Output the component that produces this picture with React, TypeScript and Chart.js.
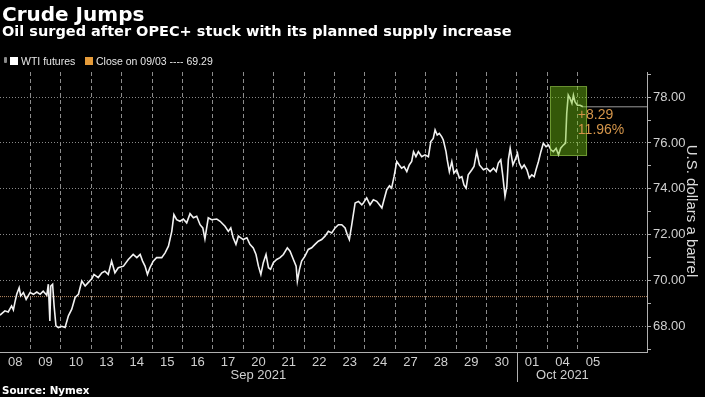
import React, { useEffect, useRef } from 'react';
import { Chart, registerables } from 'chart.js';

Chart.register(...registerables);

// ---- data ----
const dayLabels = ['08', '09', '10', '13', '14', '15', '16', '17', '20', '21', '22', '23', '24', '27', '28', '29', '30', '01', '04', '05'];
const monthLabels = ['Sep 2021', 'Oct 2021'];
const monthStarts = [0, 17];
const monthEnds = [17, 20];
const priceTicks = [67, 68, 69, 70, 71, 72, 73, 74, 75, 76, 77, 78, 79];
const labeledPrices = [68, 70, 72, 74, 76, 78];

// session time in trading days since Sep 08 open
const sessionTimes = [0.00, 0.16, 0.27, 0.38, 0.44, 0.49, 0.55, 0.63, 0.68, 0.77, 0.86, 0.99, 1.10, 1.21, 1.32, 1.42, 1.54, 1.59, 1.64, 1.67, 1.73, 1.78, 1.84, 1.92, 2.03, 2.14, 2.25, 2.36, 2.47, 2.58, 2.69, 2.80, 2.90, 3.02, 3.09, 3.23, 3.35, 3.45, 3.56, 3.67, 3.78, 3.89, 4.06, 4.22, 4.38, 4.50, 4.61, 4.69, 4.77, 4.85, 4.93, 5.04, 5.15, 5.32, 5.43, 5.54, 5.65, 5.72, 5.81, 5.92, 6.03, 6.14, 6.25, 6.36, 6.47, 6.58, 6.67, 6.74, 6.85, 6.96, 7.13, 7.24, 7.40, 7.51, 7.59, 7.67, 7.76, 7.84, 8.00, 8.12, 8.22, 8.33, 8.42, 8.50, 8.58, 8.66, 8.75, 8.83, 8.90, 8.99, 9.10, 9.21, 9.32, 9.45, 9.54, 9.65, 9.74, 9.78, 9.85, 9.92, 10.03, 10.14, 10.25, 10.36, 10.47, 10.58, 10.69, 10.80, 10.91, 11.02, 11.13, 11.24, 11.35, 11.42, 11.49, 11.57, 11.68, 11.79, 11.90, 11.95, 12.06, 12.17, 12.28, 12.39, 12.48, 12.56, 12.63, 12.72, 12.81, 12.88, 12.96, 13.05, 13.13, 13.21, 13.29, 13.38, 13.46, 13.54, 13.60, 13.68, 13.76, 13.87, 13.98, 14.09, 14.17, 14.25, 14.31, 14.38, 14.45, 14.53, 14.58, 14.67, 14.71, 14.78, 14.86, 14.93, 15.02, 15.11, 15.19, 15.26, 15.33, 15.40, 15.52, 15.59, 15.68, 15.77, 15.90, 16.01, 16.12, 16.23, 16.32, 16.39, 16.47, 16.54, 16.61, 16.67, 16.72, 16.78, 16.87, 16.94, 17.02, 17.08, 17.16, 17.24, 17.33, 17.41, 17.49, 17.57, 17.63, 17.71, 17.79, 17.87, 17.96, 18.04, 18.12, 18.20, 18.29, 18.37, 18.44, 18.53, 18.60, 18.64, 18.69, 18.75, 18.81, 18.86, 18.91, 18.99, 19.08, 19.17];

const wtiPrices = [68.48, 68.67, 68.62, 68.88, 68.71, 69.04, 69.39, 69.68, 69.32, 69.47, 69.17, 69.47, 69.39, 69.49, 69.39, 69.53, 69.35, 69.83, 68.23, 69.75, 69.83, 68.88, 68.01, 67.94, 67.99, 67.94, 68.45, 68.74, 69.25, 69.39, 69.97, 69.75, 69.90, 70.07, 70.26, 70.12, 70.33, 70.40, 70.26, 70.84, 70.33, 70.55, 70.62, 70.91, 71.13, 70.99, 71.13, 70.84, 70.62, 70.26, 70.55, 70.84, 70.99, 70.99, 71.20, 71.49, 72.14, 72.87, 72.65, 72.58, 72.68, 72.51, 72.91, 72.73, 72.80, 72.43, 72.29, 71.81, 72.73, 72.65, 72.68, 72.58, 72.36, 72.14, 72.29, 71.86, 71.57, 71.93, 71.78, 71.86, 71.57, 71.42, 71.13, 70.62, 70.26, 70.77, 71.13, 70.55, 70.48, 70.77, 70.91, 70.99, 71.13, 71.42, 71.27, 70.91, 70.62, 69.97, 70.48, 70.84, 71.06, 71.35, 71.42, 71.57, 71.71, 71.78, 71.93, 72.14, 72.07, 72.29, 72.43, 72.43, 72.29, 72.00, 71.78, 72.43, 73.38, 73.45, 73.30, 73.38, 73.60, 73.30, 73.52, 73.45, 73.30, 73.16, 73.52, 73.96, 74.13, 74.03, 74.53, 75.19, 75.04, 74.90, 74.97, 74.75, 75.04, 75.19, 75.62, 75.40, 75.62, 75.40, 75.48, 75.40, 76.06, 76.20, 76.57, 76.35, 76.42, 76.27, 76.13, 75.62, 75.26, 74.75, 75.19, 74.68, 74.83, 74.47, 74.53, 74.17, 74.03, 74.61, 74.83, 74.97, 75.62, 75.04, 74.83, 74.90, 74.75, 74.90, 74.75, 75.12, 75.26, 74.53, 73.67, 74.10, 75.26, 75.77, 75.04, 75.26, 75.55, 75.12, 74.90, 75.04, 74.83, 74.47, 74.61, 74.53, 74.83, 75.19, 75.62, 75.99, 75.84, 75.91, 75.70, 75.62, 75.77, 75.48, 75.77, 75.91, 75.99, 77.29, 78.09, 77.94, 77.73, 78.09, 77.80, 77.65, 77.65, 77.58];

const referenceClose = 69.29;
const changeValue = 8.29;
const changePct = 11.96;
const highlightStart = 18.09;
const highlightEnd = 19.31;
const highlightHigh = 78.48;
const highlightLow = 75.43;
const xMin = 0;
const xMax = 21.28;
const yMin = 66.87;
const yMax = 79.1;

const lastTime = sessionTimes[sessionTimes.length - 1];
const lastPrice = wtiPrices[wtiPrices.length - 1];

const overlayPlugin = {
  id: 'overlay',
  afterDatasetsDraw(chart: any) {
    const { ctx, scales } = chart;
    const x = scales.x;
    const y = scales.y;
    const x1 = x.getPixelForValue(highlightStart);
    const x2 = x.getPixelForValue(highlightEnd);
    const y1 = y.getPixelForValue(highlightHigh);
    const y2 = y.getPixelForValue(highlightLow);
    ctx.save();
    ctx.fillStyle = 'rgba(115,195,20,0.45)';
    ctx.fillRect(x1, y1, x2 - x1, y2 - y1);
    ctx.setLineDash([1, 1]);
    ctx.lineWidth = 1;
    ctx.strokeStyle = '#a6d85a';
    ctx.strokeRect(Math.round(x1) + 0.5, Math.round(y1) + 0.5, Math.round(x2 - x1) - 1, Math.round(y2 - y1) - 1);
    ctx.setLineDash([]);
    const tx = x.getPixelForValue(lastTime) - 5;
    const ty = y.getPixelForValue(lastPrice);
    ctx.font = '14px "Liberation Sans", Arial, sans-serif';
    ctx.fillStyle = '#d4954a';
    ctx.textBaseline = 'middle';
    ctx.textAlign = 'left';
    ctx.fillText('+' + changeValue.toFixed(2), tx, ty + 8);
    ctx.fillText(changePct.toFixed(2) + '%', tx, ty + 23);
    ctx.restore();
  },
  afterDraw(chart: any) {
    const { ctx, scales, chartArea } = chart;
    const x = scales.x;
    ctx.save();
    ctx.font = '13px "Liberation Sans", Arial, sans-serif';
    ctx.fillStyle = '#d0d0d0';
    ctx.textAlign = 'center';
    ctx.textBaseline = 'middle';
    monthLabels.forEach((m, i) => {
      const cx = (x.getPixelForValue(monthStarts[i]) + x.getPixelForValue(monthEnds[i])) / 2;
      ctx.fillText(m, cx, chartArea.bottom + 23);
    });
    ctx.strokeStyle = '#b0b0b0';
    ctx.lineWidth = 1;
    monthStarts.slice(1).forEach((v) => {
      const px = Math.round(x.getPixelForValue(v)) + 0.5;
      ctx.beginPath();
      ctx.moveTo(px, chartArea.bottom);
      ctx.lineTo(px, chartArea.bottom + 30);
      ctx.stroke();
    });
    ctx.restore();
  },
};

export default function App() {
  const ref = useRef<HTMLCanvasElement>(null);

  useEffect(() => {
    const n = Math.min(sessionTimes.length, wtiPrices.length);
    const series = [];
    for (let i = 0; i < n; i++) series.push({ x: sessionTimes[i], y: wtiPrices[i] });
    const tickFont = { family: '"Liberation Sans", Arial, sans-serif', size: 13 };
    const chart = new Chart(ref.current as HTMLCanvasElement, {
      type: 'line',
      data: {
        datasets: [
          {
            data: series,
            borderColor: '#f2f2f2',
            borderWidth: 1.6,
            pointRadius: 0,
            tension: 0,
          },
          {
            data: [
              { x: xMin, y: referenceClose },
              { x: xMax, y: referenceClose },
            ],
            borderColor: '#b98a62',
            borderWidth: 1,
            borderDash: [1, 1],
            pointRadius: 0,
          },
          {
            data: [
              { x: lastTime, y: lastPrice },
              { x: xMax, y: lastPrice },
            ],
            borderColor: '#9a9a9a',
            borderWidth: 1,
            pointRadius: 0,
          },
        ],
      } as any,
      options: {
        animation: false,
        responsive: false,
        maintainAspectRatio: false,
        layout: { padding: { top: 72, left: 0, right: 0, bottom: 0 } },
        plugins: {
          legend: { display: false },
          tooltip: { enabled: false },
        },
        scales: {
          x: {
            type: 'linear',
            min: xMin,
            max: xMax,
            afterBuildTicks: (s: any) => {
              s.ticks = dayLabels.map((_, i) => ({ value: i }));
            },
            afterFit: (s: any) => {
              s.height = 45;
              s.paddingLeft = 0;
              s.paddingRight = 0;
            },
            ticks: {
              autoSkip: false,
              maxRotation: 0,
              minRotation: 0,
              labelOffset: 15.2,
              padding: 3,
              color: '#d0d0d0',
              font: tickFont,
              callback: (_v: any, i: number) => dayLabels[i],
            },
            grid: {
              color: (c: any) => (c.tick && c.tick.value > 0 ? '#8c8c8c' : 'transparent'),
              drawTicks: false,
              lineWidth: 1,
            },
            border: { display: true, color: '#b0b0b0', dash: [4, 3] },
          },
          y: {
            type: 'linear',
            position: 'right',
            min: yMin,
            max: yMax,
            afterBuildTicks: (s: any) => {
              s.ticks = priceTicks.map((v) => ({ value: v }));
            },
            afterFit: (s: any) => {
              s.width = 58;
              s.paddingTop = 0;
              s.paddingBottom = 0;
            },
            ticks: {
              padding: 2,
              color: '#d0d0d0',
              font: tickFont,
              callback: (v: any) => (labeledPrices.includes(v) ? Number(v).toFixed(2) : ''),
            },
            grid: {
              color: (c: any) => (c.tick && labeledPrices.includes(c.tick.value) ? '#8a8a8a' : 'transparent'),
              tickColor: '#b0b0b0',
              tickLength: 4,
              drawTicks: true,
            },
            border: { display: true, color: '#b0b0b0', dash: [1, 2] },
          },
        },
      } as any,
      plugins: [overlayPlugin],
    });
    return () => chart.destroy();
  }, []);

  const bold = '"DejaVu Sans", Verdana, sans-serif';
  const reg = '"Liberation Sans", Arial, sans-serif';

  return (
    <div
      style={{
        position: 'fixed',
        left: 0,
        top: 0,
        width: 705,
        height: 397,
        background: '#000',
        overflow: 'hidden',
        fontFamily: reg,
        color: '#fff',
      }}
    >
      <canvas ref={ref} width={705} height={397} style={{ position: 'absolute', left: 0, top: 0 }} />
      <div style={{ position: 'absolute', left: 2, top: 4, fontFamily: bold, fontWeight: 'bold', fontSize: 20, lineHeight: '20px', whiteSpace: 'nowrap' }}>
        Crude Jumps
      </div>
      <div style={{ position: 'absolute', left: 2, top: 24, fontFamily: bold, fontWeight: 'bold', fontSize: 14.5, lineHeight: '15px', whiteSpace: 'nowrap' }}>
        Oil surged after OPEC+ stuck with its planned supply increase
      </div>
      <div style={{ position: 'absolute', left: 4, top: 57, width: 3, height: 6, background: '#8a8a8a', borderRadius: 1 }} />
      <div style={{ position: 'absolute', left: 10, top: 57, width: 8, height: 8, background: '#ffffff' }} />
      <div style={{ position: 'absolute', left: 21, top: 55, fontSize: 10.5, lineHeight: '12px', color: '#e6e6e6', whiteSpace: 'nowrap' }}>
        WTI futures
      </div>
      <div style={{ position: 'absolute', left: 85, top: 57, width: 8, height: 8, background: '#e59b3a' }} />
      <div style={{ position: 'absolute', left: 96, top: 55, fontSize: 10.5, lineHeight: '12px', color: '#e6e6e6', whiteSpace: 'pre' }}>
        Close on 09/03 ---- 69.29
      </div>
      <div
        style={{
          position: 'absolute',
          left: 592,
          top: 203,
          width: 200,
          height: 16,
          lineHeight: '16px',
          fontSize: 15,
          textAlign: 'center',
          color: '#dcdcdc',
          whiteSpace: 'nowrap',
          transform: 'rotate(90deg)',
        }}
      >
        U.S. dollars a barrel
      </div>
      <div style={{ position: 'absolute', left: 2, top: 384, fontFamily: bold, fontWeight: 'bold', fontSize: 10.3, lineHeight: '12px', whiteSpace: 'nowrap' }}>
        Source: Nymex
      </div>
    </div>
  );
}
